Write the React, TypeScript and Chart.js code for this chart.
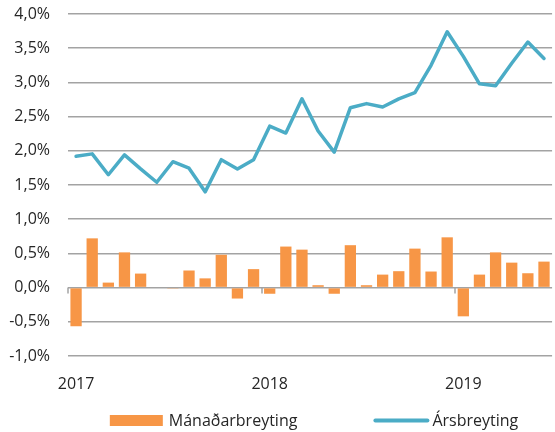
import React, { useEffect, useRef } from 'react';
import { Chart, registerables } from 'chart.js';

Chart.register(...registerables);

const categories = [
  '2017-01', '2017-02', '2017-03', '2017-04', '2017-05', '2017-06',
  '2017-07', '2017-08', '2017-09', '2017-10', '2017-11', '2017-12',
  '2018-01', '2018-02', '2018-03', '2018-04', '2018-05', '2018-06',
  '2018-07', '2018-08', '2018-09', '2018-10', '2018-11', '2018-12',
  '2019-01', '2019-02', '2019-03', '2019-04', '2019-05', '2019-06',
];

// Mánaðarbreyting (monthly change, %)
const monthlyChange = [
  -0.565, 0.72, 0.073, 0.515, 0.205, 0.0, -0.015, 0.25, 0.135, 0.48, -0.16, 0.27,
  -0.09, 0.6, 0.555, 0.035, -0.09, 0.62, 0.035, 0.19, 0.24, 0.57, 0.235, 0.735,
  -0.42, 0.19, 0.515, 0.365, 0.21, 0.38,
];

// Ársbreyting (annual change, %)
const annualChange = [
  1.92, 1.955, 1.65, 1.94, 1.735, 1.54, 1.84, 1.745, 1.4, 1.87, 1.735, 1.87,
  2.36, 2.26, 2.76, 2.29, 1.98, 2.63, 2.69, 2.64, 2.76, 2.85, 3.25, 3.74,
  3.38, 2.98, 2.95, 3.28, 3.59, 3.35,
];

const seriesNames = ['Mánaðarbreyting', 'Ársbreyting'];
const yMin = -1;
const yMax = 4;
const yStep = 0.5;

const BAR_COLOR = '#F79646';
const LINE_COLOR = '#4BACC6';
const GRID_COLOR = '#A3A3A3';
const TEXT_COLOR = '#262626';
const FONT_FAMILY = '"Open Sans", sans-serif';
const FONT_SIZE = 16;

const fmtPct = (v: number) => v.toFixed(1).replace('.', ',') + '%';

const zeroTicksPlugin = {
  id: 'zeroTicks',
  afterDatasetsDraw(chart: any) {
    const { ctx, scales } = chart;
    const x = scales.x;
    const y = scales.y;
    const y0 = y.getPixelForValue(0);
    const step = x.getPixelForValue(1) - x.getPixelForValue(0);
    ctx.save();
    ctx.strokeStyle = GRID_COLOR;
    ctx.lineWidth = 1.5;
    categories.forEach((c, i) => {
      if (c.endsWith('-01')) {
        const px = Math.round(x.getPixelForValue(i) - step / 2);
        ctx.beginPath();
        ctx.moveTo(px, y0);
        ctx.lineTo(px, y0 + 6);
        ctx.stroke();
      }
    });
    ctx.restore();
  },
};

const legendPlugin = {
  id: 'customLegend',
  afterDraw(chart: any) {
    const { ctx, chartArea, height } = chart;
    ctx.save();
    ctx.font = `${FONT_SIZE}px ${FONT_FAMILY}`;
    ctx.textBaseline = 'middle';
    ctx.fillStyle = TEXT_COLOR;
    const boxW = 53;
    const lineW = 56;
    const gapText = 6;
    const gapItems = 76;
    const t1 = ctx.measureText(seriesNames[0]).width;
    const t2 = ctx.measureText(seriesNames[1]).width;
    const total = boxW + gapText + t1 + gapItems + lineW + 3 + t2;
    const cx = (chartArea.left + chartArea.right) / 2 + 4;
    let xPos = cx - total / 2;
    const yc = height - 11.5;
    ctx.fillStyle = BAR_COLOR;
    ctx.fillRect(xPos, yc - 5.5, boxW, 11);
    xPos += boxW + gapText;
    ctx.fillStyle = TEXT_COLOR;
    ctx.fillText(seriesNames[0], xPos, yc + 1);
    xPos += t1 + gapItems;
    ctx.strokeStyle = LINE_COLOR;
    ctx.lineWidth = 4;
    ctx.lineCap = 'round';
    ctx.beginPath();
    ctx.moveTo(xPos + 2, yc);
    ctx.lineTo(xPos + lineW - 2, yc);
    ctx.stroke();
    xPos += lineW + 3;
    ctx.fillText(seriesNames[1], xPos, yc + 1);
    ctx.restore();
  },
};

export default function App() {
  const canvasRef = useRef<HTMLCanvasElement | null>(null);

  useEffect(() => {
    if (!canvasRef.current) return;
    const chart = new Chart(canvasRef.current, {
      type: 'bar',
      data: {
        labels: categories,
        datasets: [
          {
            type: 'line',
            label: seriesNames[1],
            data: annualChange,
            borderColor: LINE_COLOR,
            backgroundColor: LINE_COLOR,
            borderWidth: 3.5,
            pointRadius: 0,
            tension: 0,
            borderJoinStyle: 'round',
            borderCapStyle: 'round',
            order: 1,
          } as any,
          {
            type: 'bar',
            label: seriesNames[0],
            data: monthlyChange,
            backgroundColor: BAR_COLOR,
            borderWidth: 0,
            categoryPercentage: 1,
            barPercentage: 0.7,
            order: 2,
          },
        ],
      },
      options: {
        animation: false,
        responsive: true,
        maintainAspectRatio: false,
        layout: { padding: { top: 14, left: 0, right: 0, bottom: 36 } },
        plugins: {
          legend: { display: false },
          tooltip: { enabled: false },
        },
        scales: {
          x: {
            offset: true,
            grid: { display: false },
            border: { display: false },
            ticks: {
              autoSkip: false,
              maxRotation: 0,
              minRotation: 0,
              padding: 11,
              color: TEXT_COLOR,
              font: { family: FONT_FAMILY, size: FONT_SIZE },
              callback: (_v: any, i: number) =>
                categories[i].endsWith('-01') ? categories[i].slice(0, 4) : '',
            },
            afterFit: (s: any) => {
              s.height = 40;
            },
          },
          y: {
            min: yMin,
            max: yMax,
            grid: {
              color: GRID_COLOR,
              lineWidth: 1.5,
              drawTicks: true,
              tickLength: 18,
              tickColor: 'rgba(0,0,0,0)',
            },
            border: { display: false },
            ticks: {
              stepSize: yStep,
              padding: 0,
              color: TEXT_COLOR,
              font: { family: FONT_FAMILY, size: FONT_SIZE },
              callback: (v: any) => fmtPct(Number(v)),
            },
            afterFit: (s: any) => {
              s.width = 68;
            },
          },
        },
      },
      plugins: [zeroTicksPlugin, legendPlugin],
    });
    return () => chart.destroy();
  }, []);

  return (
    <div style={{ position: 'fixed', left: 0, top: 0, width: 555, height: 432, background: '#fff' }}>
      <canvas ref={canvasRef} />
    </div>
  );
}
